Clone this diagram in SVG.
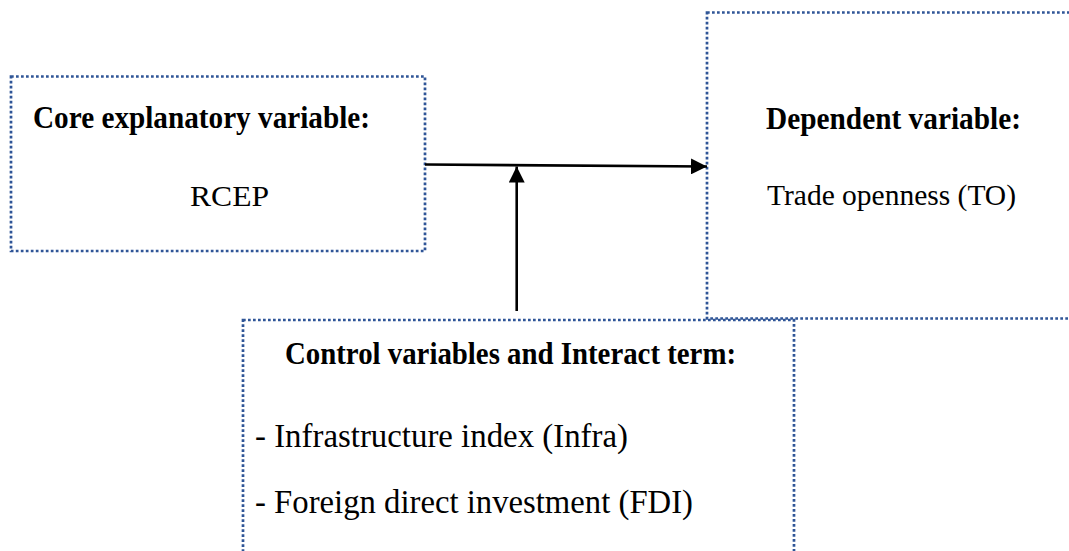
<svg xmlns="http://www.w3.org/2000/svg" width="1069" height="551" viewBox="0 0 1069 551">
  <style>
    .box { fill: none; stroke: #2f5597; stroke-width: 2.7; stroke-dasharray: 2.7 2.3; }
    text { font-family: 'Liberation Serif', Tinos, 'Times New Roman', 'DejaVu Serif', serif; fill: #000; }
    .head { font-size: 31.5px; font-weight: bold; }
    .body { font-size: 30px; }
    .item { font-size: 34.5px; }
    .link { stroke: #000; stroke-width: 2.6; fill: none; }
  </style>
  <defs>
    <marker id="arrow" viewBox="0 0 16 16" refX="16" refY="8" markerWidth="16" markerHeight="16" markerUnits="userSpaceOnUse" orient="auto">
      <path d="M0,0 L16,8 L0,16 Z" fill="#000"/>
    </marker>
  </defs>
  <rect width="1069" height="551" fill="#fff"/>

  <g id="core">
    <rect class="box" x="11" y="76.5" width="414" height="174.5"/>
    <text class="head" x="33" y="128" textLength="337" lengthAdjust="spacingAndGlyphs">Core explanatory variable:</text>
    <text class="body" x="190" y="206" textLength="79" lengthAdjust="spacingAndGlyphs">RCEP</text>
  </g>

  <g id="dependent">
    <rect class="box" x="707" y="12.5" width="400" height="306"/>
    <text class="head" x="766" y="129" textLength="255" lengthAdjust="spacingAndGlyphs">Dependent variable:</text>
    <text class="body" x="767" y="205" textLength="249" lengthAdjust="spacingAndGlyphs">Trade openness (TO)</text>
  </g>

  <g id="controls">
    <rect class="box" x="243" y="320" width="551" height="300"/>
    <text class="head" x="285" y="364" textLength="451" lengthAdjust="spacingAndGlyphs">Control variables and Interact term:</text>
    <text class="item" x="255" y="447" textLength="373" lengthAdjust="spacingAndGlyphs">- Infrastructure index (Infra)</text>
    <text class="item" x="255" y="513" textLength="438" lengthAdjust="spacingAndGlyphs">- Foreign direct investment (FDI)</text>
  </g>

  <g id="connectors">
    <line class="link" x1="425" y1="164.5" x2="707" y2="166.5" marker-end="url(#arrow)"/>
    <line class="link" x1="516.7" y1="311" x2="516.7" y2="166.5" marker-end="url(#arrow)"/>
  </g>
</svg>
